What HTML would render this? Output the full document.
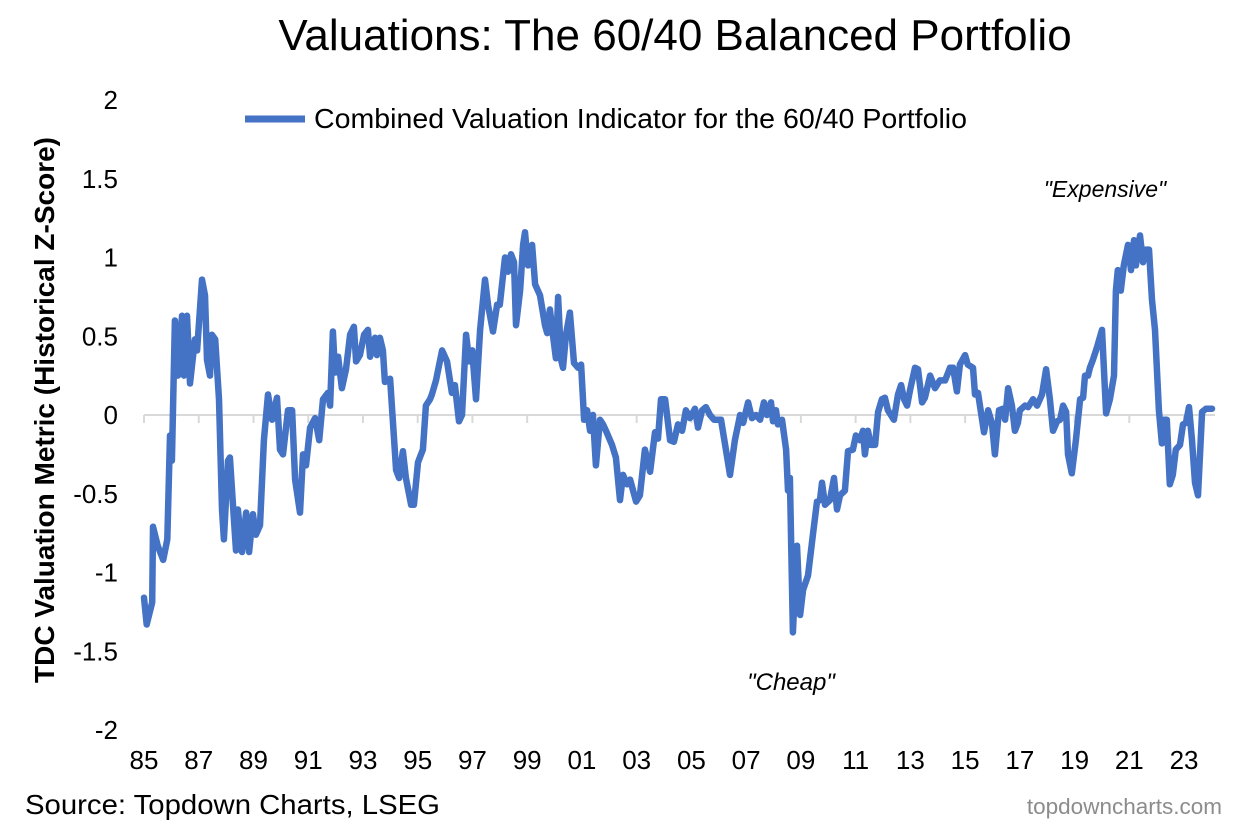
<!DOCTYPE html>
<html><head><meta charset="utf-8"><style>
body{margin:0;background:#fff;}
svg text{font-family:"Liberation Sans",Arial,sans-serif;}
</style></head><body>
<svg id="chart" width="1245" height="827" viewBox="0 0 1245 827" xmlns="http://www.w3.org/2000/svg">
<rect width="1245" height="827" fill="#fff"/>
<text x="675" y="50" font-size="44" text-anchor="middle" fill="#000">Valuations: The 60/40 Balanced Portfolio</text>
<g>
<line x1="245" y1="119" x2="305" y2="119" stroke="#4472C4" stroke-width="7"/>
<text x="314" y="128" font-size="28" fill="#000" textLength="653" lengthAdjust="spacingAndGlyphs">Combined Valuation Indicator for the 60/40 Portfolio</text>
</g>
<text transform="translate(54,410) rotate(-90)" font-size="28" font-weight="bold" text-anchor="middle" fill="#000" textLength="546" lengthAdjust="spacingAndGlyphs">TDC Valuation Metric (Historical Z-Score)</text>
<g id="yticks"></g>
<g id="xaxis"></g>
<path id="series" fill="none" stroke="#4472C4" stroke-width="6.5" stroke-linejoin="round" stroke-linecap="round"/>
<text x="1105" y="197" font-size="23" font-style="italic" text-anchor="middle">"Expensive"</text>
<text x="791" y="690" font-size="24" font-style="italic" text-anchor="middle">"Cheap"</text>
<text x="25" y="814" font-size="28" fill="#000" textLength="415" lengthAdjust="spacingAndGlyphs">Source: Topdown Charts, LSEG</text>
<text x="1222" y="814" font-size="22.5" fill="#8c8c8c" text-anchor="end">topdowncharts.com</text>
</svg>
<script>
const yearTicks=[85,87,89,91,93,95,97,99,1,3,5,7,9,11,13,15,17,19,21,23];
const yTickLabels=["2","1.5","1","0.5","0","-0.5","-1","-1.5","-2"];
const yTickValues=[2,1.5,1,0.5,0,-0.5,-1,-1.5,-2];
// dates as years since 1900
const dates=[85.0,85.1,85.3,85.33,85.5,85.7,85.85,85.95,86.02,86.13,86.24,86.39,86.46,86.57,86.68,86.86,86.94,87.12,87.23,87.3,87.41,87.48,87.6,87.74,87.85,87.92,88.07,88.14,88.29,88.36,88.43,88.58,88.73,88.84,88.98,89.09,89.24,89.38,89.53,89.68,89.86,89.97,90.08,90.26,90.41,90.52,90.7,90.81,90.92,91.07,91.25,91.4,91.54,91.72,91.8,91.9,91.98,92.09,92.23,92.38,92.53,92.67,92.75,92.89,93.04,93.18,93.26,93.44,93.51,93.62,93.73,93.8,93.99,94.21,94.32,94.46,94.57,94.76,94.86,95.01,95.19,95.3,95.45,95.52,95.67,95.89,96.07,96.25,96.36,96.51,96.62,96.77,96.88,96.99,97.13,97.28,97.46,97.57,97.75,97.9,98.0,98.12,98.19,98.3,98.41,98.52,98.59,98.74,98.85,98.92,99.03,99.18,99.29,99.47,99.65,99.73,99.83,99.94,100.05,100.13,100.24,100.31,100.42,100.56,100.71,100.86,100.97,101.08,101.19,101.3,101.4,101.51,101.66,101.77,101.88,102.1,102.24,102.39,102.5,102.65,102.76,102.98,103.12,103.3,103.49,103.67,103.78,103.89,104.04,104.22,104.36,104.51,104.66,104.8,104.95,105.13,105.24,105.39,105.53,105.68,105.83,105.97,106.08,106.26,106.41,106.59,106.78,106.89,107.07,107.21,107.36,107.51,107.65,107.76,107.91,107.98,108.09,108.16,108.31,108.46,108.53,108.6,108.71,108.86,108.97,109.08,109.26,109.44,109.59,109.7,109.77,109.88,110.06,110.21,110.32,110.43,110.61,110.72,110.9,111.01,111.16,111.27,111.34,111.45,111.56,111.71,111.82,111.96,112.07,112.18,112.4,112.55,112.66,112.77,112.88,112.99,113.17,113.28,113.43,113.53,113.72,113.9,114.08,114.27,114.45,114.56,114.7,114.81,115.0,115.1,115.29,115.36,115.47,115.62,115.69,115.84,115.98,116.09,116.24,116.38,116.46,116.57,116.71,116.82,116.93,117.0,117.19,117.3,117.48,117.63,117.81,117.96,118.1,118.21,118.36,118.47,118.58,118.69,118.76,118.9,119.05,119.2,119.31,119.38,119.49,119.56,119.67,119.82,120.0,120.15,120.29,120.44,120.51,120.58,120.69,120.8,120.95,121.06,121.17,121.24,121.39,121.5,121.61,121.72,121.83,121.94,122.08,122.19,122.26,122.37,122.48,122.59,122.7,122.85,122.96,123.07,123.18,123.29,123.4,123.51,123.66,123.8,124.02];
const values=[-1.16,-1.33,-1.19,-0.71,-0.83,-0.92,-0.79,-0.13,-0.29,0.60,0.25,0.63,0.25,0.63,0.20,0.48,0.41,0.86,0.76,0.35,0.25,0.51,0.48,0.10,-0.60,-0.79,-0.29,-0.27,-0.67,-0.86,-0.60,-0.87,-0.62,-0.87,-0.63,-0.76,-0.70,-0.16,0.13,-0.03,0.11,-0.22,-0.25,0.03,0.03,-0.41,-0.62,-0.25,-0.32,-0.08,-0.02,-0.16,0.10,0.14,0.06,0.53,0.27,0.37,0.17,0.29,0.51,0.56,0.34,0.38,0.51,0.54,0.37,0.49,0.38,0.49,0.41,0.21,0.23,-0.35,-0.40,-0.23,-0.40,-0.57,-0.57,-0.30,-0.22,0.06,0.10,0.13,0.22,0.41,0.34,0.14,0.19,-0.04,0.0,0.51,0.34,0.41,0.10,0.54,0.86,0.70,0.53,0.70,0.70,0.89,1.0,0.91,1.02,0.97,0.57,0.79,1.08,1.16,0.95,1.08,0.83,0.76,0.57,0.52,0.67,0.51,0.36,0.75,0.35,0.30,0.51,0.65,0.33,0.30,0.32,-0.03,0.03,-0.10,0.0,-0.32,-0.03,-0.06,-0.10,-0.19,-0.27,-0.54,-0.38,-0.44,-0.41,-0.55,-0.51,-0.22,-0.36,-0.11,-0.15,0.10,0.10,-0.16,-0.17,-0.06,-0.10,0.03,-0.02,0.04,-0.08,0.03,0.05,0.0,-0.03,-0.03,-0.03,-0.22,-0.38,-0.16,0.0,-0.05,0.08,-0.02,0.0,-0.03,0.08,0.0,0.08,-0.04,0.03,-0.06,-0.03,-0.22,-0.48,-0.40,-1.38,-0.83,-1.27,-1.11,-1.02,-0.76,-0.55,-0.54,-0.43,-0.57,-0.54,-0.40,-0.60,-0.51,-0.48,-0.23,-0.22,-0.13,-0.16,-0.10,-0.25,-0.10,-0.19,-0.19,0.02,0.10,0.11,0.03,-0.03,0.13,0.19,0.10,0.06,0.16,0.30,0.29,0.08,0.11,0.25,0.17,0.22,0.22,0.30,0.30,0.15,0.32,0.38,0.32,0.30,0.13,0.14,-0.03,-0.11,0.03,-0.05,-0.25,0.03,0.04,-0.03,0.17,0.06,-0.10,-0.05,0.03,0.06,0.05,0.10,0.06,0.13,0.29,0.10,-0.10,-0.04,-0.03,0.06,0.02,-0.25,-0.37,-0.16,0.10,0.11,0.25,0.25,0.30,0.35,0.43,0.54,0.01,0.10,0.25,0.79,0.92,0.79,0.95,1.08,0.92,1.11,0.95,1.14,0.97,1.05,1.05,0.73,0.54,0.03,-0.18,-0.03,-0.03,-0.44,-0.38,-0.22,-0.19,-0.06,-0.05,0.05,-0.16,-0.43,-0.51,0.02,0.04,0.04];

const NS='http://www.w3.org/2000/svg';
function xScale(y){return 144+(y-85)*27.37;}
function yScale(v){return 415-v*157.5;}
function fullYear(t){return t<50?100+t:t;}

const yt=document.getElementById('yticks');
yTickValues.forEach((v,i)=>{
  const t=document.createElementNS(NS,'text');
  
  
  t.setAttribute('x',118);t.setAttribute('y',yScale(v)+9);
  t.setAttribute('font-size','26');t.setAttribute('text-anchor','end');
  t.textContent=yTickLabels[i];yt.appendChild(t);
});

const xa=document.getElementById('xaxis');
const ax=document.createElementNS(NS,'line');


ax.setAttribute('x1',144);ax.setAttribute('x2',1215);
ax.setAttribute('y1',yScale(0));ax.setAttribute('y2',yScale(0));
ax.setAttribute('stroke','#d9d9d9');ax.setAttribute('stroke-width','2');
xa.appendChild(ax);
for(let yr=85;yr<=124;yr+=2){
  const tk=document.createElementNS(NS,'line');
  
  
  tk.setAttribute('x1',xScale(yr));tk.setAttribute('x2',xScale(yr));
  tk.setAttribute('y1',yScale(0));tk.setAttribute('y2',yScale(0)+8);
  tk.setAttribute('stroke','#d9d9d9');tk.setAttribute('stroke-width','2');
  xa.appendChild(tk);
}
yearTicks.forEach(t=>{
  const tx=document.createElementNS(NS,'text');
  
  
  tx.setAttribute('x',xScale(fullYear(t)));tx.setAttribute('y',769);
  tx.setAttribute('font-size','26');tx.setAttribute('text-anchor','middle');
  tx.textContent=String(t%100).padStart(2,'0');xa.appendChild(tx);
});

let d='';
dates.forEach((t,i)=>{d+=(i?'L':'M')+xScale(t).toFixed(1)+','+yScale(values[i]).toFixed(1);});
document.getElementById('series').setAttribute('d',d);
</script>
</body></html>
